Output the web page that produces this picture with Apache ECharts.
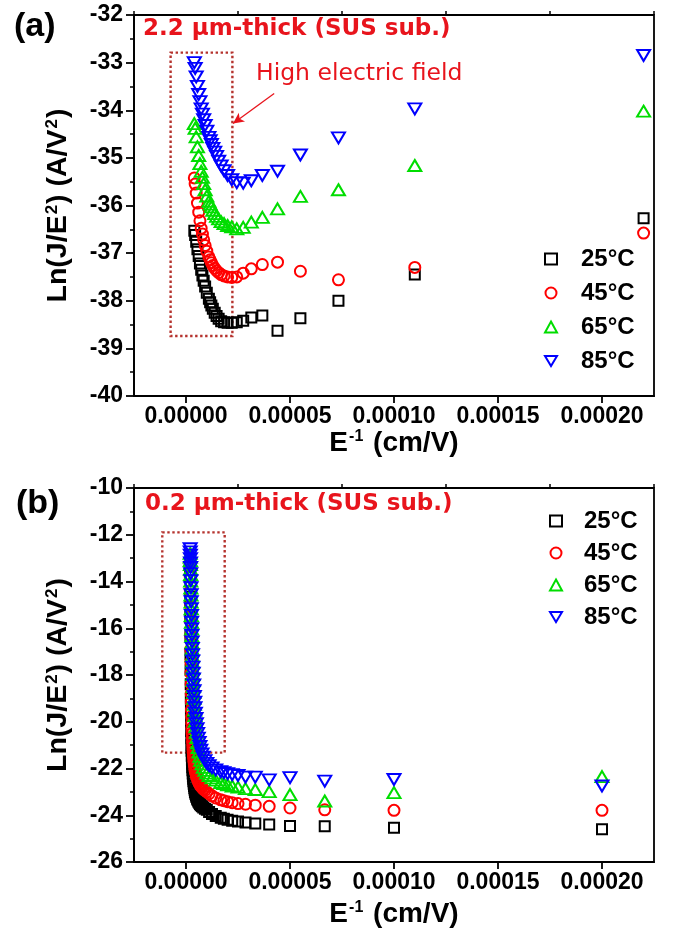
<!DOCTYPE html>
<html>
<head>
<meta charset="utf-8">
<script src="https://cdn.jsdelivr.net/npm/echarts@6/dist/echarts.min.js"></script>
<style>html,body{margin:0;padding:0;background:#fff;}#c{width:676px;height:938px;}</style>
</head>
<body>
<div id="c"></div>
<script>
// ---------- data: panel (a) 2.2 um-thick ----------
const xA = [0.00022, 0.00011, 0.0000733, 0.000055, 0.000044, 0.0000367, 0.0000314, 0.0000275,
  0.0000244, 0.000022, 0.00002, 0.0000183, 0.0000169, 0.0000157, 0.0000147, 0.0000138, 0.0000129,
  0.0000122, 0.0000116, 0.000011, 0.00001, 0.0000092, 0.0000085, 0.0000079, 0.0000073, 0.0000067,
  0.0000061, 0.0000055, 0.0000049, 0.0000044, 0.000004];
const yA25 = [-36.27, -37.45, -38.00, -38.37, -38.63, -38.31, -38.35, -38.42, -38.45, -38.46, -38.46,
  -38.45, -38.43, -38.38, -38.32, -38.25, -38.17, -38.10, -38.03, -37.96, -37.83, -37.70, -37.58,
  -37.47, -37.35, -37.22, -37.06, -36.92, -36.76, -36.62, -36.53];
const yA45 = [-36.58, -37.30, -37.56, -37.38, -37.19, -37.24, -37.33, -37.42, -37.50, -37.51, -37.50,
  -37.48, -37.45, -37.41, -37.37, -37.32, -37.26, -37.20, -37.14, -37.08, -36.96, -36.84, -36.72,
  -36.60, -36.48, -36.32, -36.14, -35.95, -35.74, -35.55, -35.42];
const yA65 = [-34.02, -35.16, -35.67, -35.81, -36.07, -36.25, -36.35, -36.46, -36.49, -36.45, -36.42,
  -36.38, -36.34, -36.28, -36.23, -36.17, -36.10, -36.03, -35.97, -35.91, -35.80, -35.67, -35.54,
  -35.41, -35.28, -35.12, -34.95, -34.77, -34.56, -34.38, -34.28];
const yA85 = [-32.85, -33.97, -34.58, -34.94, -35.28, -35.37, -35.48, -35.53, -35.52, -35.46, -35.37,
  -35.27, -35.17, -35.07, -34.97, -34.88, -34.80, -34.72, -34.64, -34.57, -34.44, -34.32, -34.20,
  -34.08, -33.97, -33.82, -33.67, -33.50, -33.30, -33.12, -33.00];

// ---------- data: panel (b) 0.2 um-thick ----------
const xB = [0.0002, 0.0001, 0.0000667, 0.00005, 0.00004, 0.0000333, 0.0000286, 0.000025, 0.0000222,
  0.00002, 0.0000182, 0.0000167, 0.0000143, 0.0000125, 0.0000111, 0.00001, 0.0000091, 0.0000083,
  0.0000077, 0.0000071, 0.0000067, 0.0000063, 0.0000059, 0.0000056, 0.0000053, 0.000005, 0.0000048,
  0.0000045, 0.0000043, 0.0000042, 0.000004,
  0.00000385, 0.0000037, 0.00000357, 0.00000345, 0.00000333, 0.00000323, 0.00000313, 0.00000303,
  0.00000294, 0.00000286, 0.00000278, 0.0000027, 0.00000263, 0.00000256, 0.0000025, 0.00000244,
  0.00000238, 0.00000233, 0.00000227, 0.00000222, 0.00000217, 0.00000213, 0.00000208, 0.00000204, 0.000002];
const yB25 = [-24.60, -24.53, -24.47, -24.46, -24.40, -24.35, -24.31, -24.27, -24.24, -24.19, -24.15, -24.11,
  -24.03, -23.95, -23.86, -23.77, -23.72, -23.67, -23.62, -23.57, -23.52, -23.47, -23.41, -23.35, -23.29,
  -23.22, -23.15, -23.08, -23.00, -22.92, -22.84,
  -22.75, -22.65, -22.55, -22.44, -22.33, -22.21, -22.08, -21.95, -21.80, -21.63, -21.45, -21.24, -21.00,
  -20.72, -20.40, -20.00, -19.52, -19.00, -18.40, -17.80, -17.10, -16.30, -15.50, -14.65, -13.80];
const yB45 = [-23.79, -23.79, -23.77, -23.69, -23.62, -23.57, -23.53, -23.50, -23.46, -23.42, -23.38, -23.34,
  -23.26, -23.17, -23.08, -23.00, -22.94, -22.88, -22.82, -22.76, -22.70, -22.63, -22.56, -22.49, -22.41,
  -22.33, -22.24, -22.15, -22.05, -21.95, -21.84,
  -21.72, -21.60, -21.46, -21.32, -21.18, -21.02, -20.86, -20.68, -20.50, -20.28, -20.05, -19.78, -19.50,
  -19.16, -18.80, -18.38, -17.92, -17.45, -16.90, -16.30, -15.68, -15.05, -14.40, -13.80, -13.30];
const yB65 = [-22.35, -23.03, -23.39, -23.12, -22.99, -22.90, -22.86, -22.80, -22.75, -22.70, -22.65, -22.60,
  -22.50, -22.40, -22.30, -22.20, -22.08, -21.95, -21.80, -21.65, -21.48, -21.30, -21.10, -20.90, -20.68,
  -20.45, -20.22, -19.98, -19.74, -19.50, -19.25,
  -19.00, -18.75, -18.50, -18.24, -17.98, -17.72, -17.45, -17.18, -16.90, -16.62, -16.33, -16.04, -15.75,
  -15.46, -15.17, -14.88, -14.58, -14.28, -13.98, -13.70, -13.48, -13.28, -13.10, -12.95, -12.80];
const yB85 = [-22.75, -22.47, -22.54, -22.39, -22.49, -22.37, -22.37, -22.30, -22.26, -22.22, -22.18, -22.14,
  -22.06, -21.97, -21.88, -21.78, -21.66, -21.52, -21.38, -21.22, -21.06, -20.88, -20.70, -20.50, -20.30,
  -20.08, -19.86, -19.63, -19.40, -19.16, -18.92,
  -18.67, -18.42, -18.17, -17.92, -17.66, -17.40, -17.13, -16.86, -16.58, -16.30, -16.02, -15.74, -15.45,
  -15.16, -14.86, -14.56, -14.26, -13.96, -13.66, -13.40, -13.20, -13.02, -12.87, -12.73, -12.60];

const seriesNames = ['25\u00B0C', '45\u00B0C', '65\u00B0C', '85\u00B0C'];
const xTickValues = [0, 0.00005, 0.0001, 0.00015, 0.0002];
// annotation boxes / arrow (data coords)
const boxA = [[-0.0000074, -32.79], [0.0000223, -38.74]];
const boxB = [[-0.0000114, -11.90], [0.0000186, -21.32]];
const arrowA = [[0.0000424, -33.65], [0.0000226, -34.28]];

// ---------- styles ----------
const FONT = '"Liberation Sans", Arial, sans-serif';
const WIDE = '"DejaVu Sans", sans-serif';
const RED = '#e8141c';
const BOXC = '#b5332e';
const colors = ['#000000', '#ff0000', '#00dd00', '#0000ff'];
const symbols = ['rect', 'circle', 'triangle', 'triangle'];
const sizes = [10, 11, [13, 11], [13, 11]];
const rot = [0, 0, 0, 180];
const legendIcons = ['rect', 'circle', 'triangle', 'path://M0,0L12,0L6,10Z'];

const chart = echarts.init(document.getElementById('c'), null, {renderer: 'canvas'});

function zip(xs, ys) { return xs.map((x, i) => [x, ys[i]]); }

function xAxes(grid, gap) {
  return [{
    gridIndex: grid, type: 'value', min: -0.000025, max: 0.000225, interval: 0.000025,
    axisLine: {show: true, onZero: false, lineStyle: {color: '#000', width: 1.8}},
    axisTick: {show: true, length: 7, lineStyle: {color: '#000', width: 1.8}, customValues: xTickValues},
    axisLabel: {show: true, customValues: xTickValues, margin: 9, color: '#000', fontFamily: FONT, fontWeight: 'bold', fontSize: 23,
      formatter: v => v.toFixed(5)},
    splitLine: {show: false},
    name: 'E{s|-1} (cm/V)', nameLocation: 'middle', nameGap: gap,
    nameTextStyle: {color: '#000', fontFamily: FONT, fontWeight: 'bold', fontSize: 28,
      rich: {s: {fontSize: 16, fontFamily: FONT, fontWeight: 'bold', color: '#000', verticalAlign: 'top', padding: [0, 2, 0, 1]}}}
  }, {
    gridIndex: grid, type: 'value', min: -0.000025, max: 0.000225, interval: 0.00005,
    axisLine: {show: false}, axisLabel: {show: false}, splitLine: {show: false},
    axisTick: {show: true, length: 4, lineStyle: {color: '#000', width: 1.5}}
  }];
}

function yAxis(grid, min, max, interval) {
  return {
    gridIndex: grid, type: 'value', min: min, max: max, interval: interval,
    axisLine: {show: true, onZero: false, lineStyle: {color: '#000', width: 1.8}},
    axisTick: {show: true, length: 8, lineStyle: {color: '#000', width: 1.8}},
    minorTick: {show: true, splitNumber: 2, length: 4, lineStyle: {color: '#000', width: 1.5}},
    axisLabel: {margin: 11, color: '#000', fontFamily: FONT, fontWeight: 'bold', fontSize: 23,
      formatter: v => String(Math.round(v))},
    splitLine: {show: false}, minorSplitLine: {show: false},
    name: 'Ln(J/E{s|2}) (A/V{s|2})', nameLocation: 'middle', nameRotate: 90, nameGap: 61,
    nameTextStyle: {color: '#000', fontFamily: FONT, fontWeight: 'bold', fontSize: 28.5,
      rich: {s: {fontSize: 17, fontFamily: FONT, fontWeight: 'bold', color: '#000', verticalAlign: 'top', padding: [0, 1, 0, 1]}}}
  };
}

function mkSeries(i, grid, data) {
  return {
    type: 'scatter', name: seriesNames[i], xAxisIndex: grid * 2, yAxisIndex: grid,
    data: data, symbol: symbols[i], symbolSize: sizes[i], symbolRotate: rot[i],
    itemStyle: {color: 'rgba(255,255,255,0)', borderColor: colors[i], borderWidth: 2, opacity: 1},
    emphasis: {disabled: true}, z: 2 + i
  };
}

const series = [
  mkSeries(0, 0, zip(xA, yA25)), mkSeries(1, 0, zip(xA, yA45)), mkSeries(2, 0, zip(xA, yA65)), mkSeries(3, 0, zip(xA, yA85)),
  mkSeries(0, 1, zip(xB, yB25)), mkSeries(1, 1, zip(xB, yB45)), mkSeries(2, 1, zip(xB, yB65)), mkSeries(3, 1, zip(xB, yB85))
];
const areaStyle = {color: 'rgba(0,0,0,0)', borderColor: BOXC, borderWidth: 2.4, borderType: [2.4, 2.6]};
series[0].markArea = {silent: true, itemStyle: areaStyle, label: {show: false},
  data: [[{coord: boxA[0]}, {coord: boxA[1]}]]};
series[0].markLine = {silent: true, symbol: ['none', 'arrow'], symbolSize: [8, 11], label: {show: false},
  lineStyle: {color: RED, width: 1.3, type: 'solid'},
  data: [[{coord: arrowA[0]}, {coord: arrowA[1]}]]};
series[4].markArea = {silent: true, itemStyle: areaStyle, label: {show: false},
  data: [[{coord: boxB[0]}, {coord: boxB[1]}]]};

function legend(left, top, gap, pad) {
  return {
    orient: 'vertical', left: left, top: top, itemGap: gap, padding: 0,
    itemWidth: 12, itemHeight: 11, selectedMode: false,
    data: seriesNames.map((n, i) => ({name: n, icon: legendIcons[i]})),
    textStyle: {color: '#000', fontFamily: FONT, fontWeight: 'bold', fontSize: 24, padding: [0, 0, 0, pad]}
  };
}

chart.setOption({
  animation: false,
  backgroundColor: '#fff',
  grid: [
    {left: 134, top: 15, right: 22, height: 381, show: true, borderColor: '#000', borderWidth: 1.8},
    {left: 134, top: 488, right: 22, height: 374, show: true, borderColor: '#000', borderWidth: 1.8}
  ],
  xAxis: [...xAxes(0, 29), ...xAxes(1, 38)],
  yAxis: [yAxis(0, -40, -32, 1), yAxis(1, -26, -10, 2)],
  legend: [legend(544, 247, 10, 19), legend(549, 509, 8, 17)],
  graphic: [
    {type: 'text', left: 14, top: 10, style: {text: '(a)', fill: '#000', font: 'bold 34px ' + FONT}},
    {type: 'text', left: 16, top: 487, style: {text: '(b)', fill: '#000', font: 'bold 34px ' + FONT}},
    {type: 'text', left: 143, top: 18, style: {text: '2.2 \u03BCm-thick (SUS sub.)', fill: RED, font: 'bold 23px ' + WIDE}},
    {type: 'text', left: 145, top: 493, style: {text: '0.2 \u03BCm-thick (SUS sub.)', fill: RED, font: 'bold 23px ' + WIDE}},
    {type: 'text', left: 256, top: 62, style: {text: 'High electric field', fill: RED, font: '23.5px ' + WIDE}}
  ],
  series: series
});
</script>
</body>
</html>
